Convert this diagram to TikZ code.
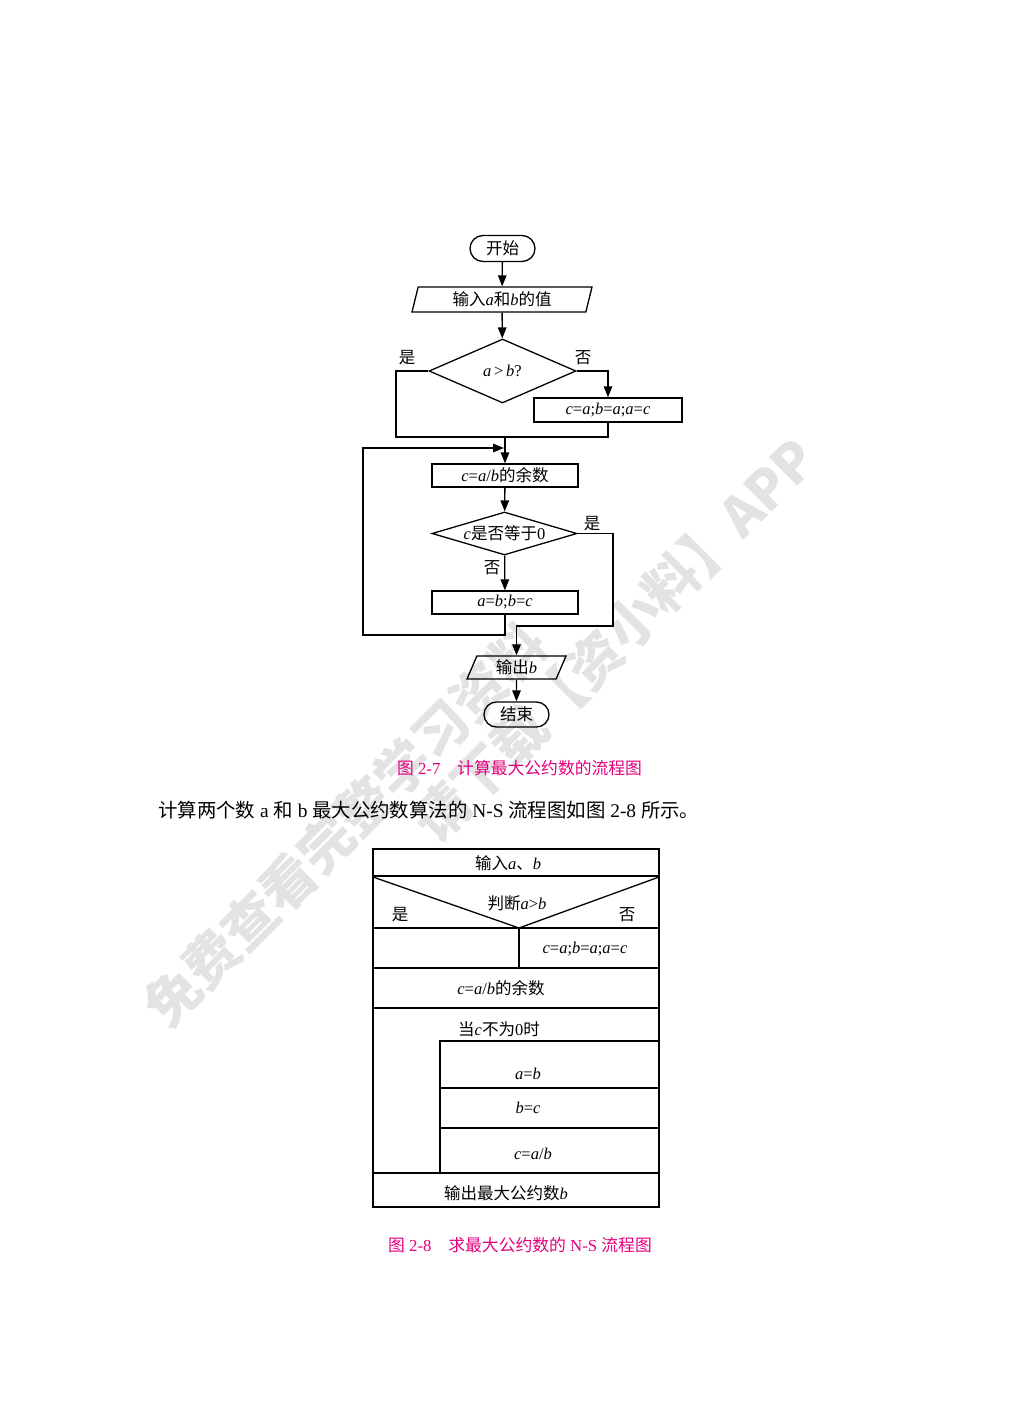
\documentclass[tikz,border=0pt]{standalone}
\usepackage{fontspec}
\setmainfont{Liberation Serif}
\newfontfamily\zh{Noto Sans CJK SC}
\usetikzlibrary{shapes.geometric,shapes.misc,arrows.meta}
\newcommand\vi[1]{\textit{#1}}
\definecolor{capmag}{RGB}{228,0,127}
\begin{document}
\begin{tikzpicture}[x=1pt,y=-1pt,
  base/.style={font=\fontsize{16.5pt}{18pt}\selectfont, inner sep=0pt},
  ln/.style={line width=1.3pt, line join=miter},
  arr/.style={ln, -{Triangle[length=11pt,width=8.5pt]}},
  term/.style={base, ln, draw, rounded rectangle, minimum width=65pt, minimum height=26pt},
  proc/.style={base, ln, draw, rectangle, minimum width=146pt, minimum height=23pt},
  dec/.style={base, ln, draw, diamond},
  io/.style={base, ln, draw, trapezium, trapezium stretches body=true},
  lab/.style={base},
  captext/.style={font=\fontsize{16.8pt}{18pt}\selectfont, text=capmag, inner sep=0pt},
  wm/.style={font=\fontsize{54pt}{56pt}\selectfont\zh\bfseries, text=black!11, inner sep=0pt, rotate=45}
]
\useasboundingbox (0,0) rectangle (1015,1413);
\fill[white] (0,0) rectangle (1015,1413);

% watermark
\node[wm] (wm1) at (345,825) {免费查看完整学习资料};
\node[wm] (wm2) at (615,640) {请下载【资小料】APP};

% ---------------- flowchart (Fig 2-7) ----------------
\node[term] (start) at (502.5,248.5) {\zh 开始};
\node[io, trapezium left angle=68, trapezium right angle=112,
      minimum width=180pt, minimum height=25pt] (in) at (502,299.5)
      {{\zh 输入}\vi{a}{\zh 和}\vi{b}{\zh 的值}};
\node[dec, aspect=2.3, minimum width=147pt, minimum height=64pt] (d1) at (502.5,371)
      {\vi{a}\,>\,\vi{b}?};
\node[proc, minimum width=148pt, minimum height=24pt] (p1) at (608,410)
      {\vi{c}=\vi{a};\vi{b}=\vi{a};\vi{a}=\vi{c}};
\coordinate (m1) at (505,437);
\coordinate (yl) at (396,437);
\node[proc] (p2) at (505,475.5) {\vi{c}=\vi{a}/\vi{b}{\zh 的余数}};
\node[dec, aspect=3.37, minimum width=145pt, minimum height=43pt] (d2) at (504.5,533.5)
      {\vi{c}{\zh 是否等于}0};
\node[proc] (p3) at (505,602.5) {\vi{a}=\vi{b};\vi{b}=\vi{c}};
\coordinate (lb) at (363,635);
\coordinate (lt) at (363,448);
\coordinate (m2) at (504,448);
\coordinate (rb) at (613,626);
\node[io, trapezium left angle=57, trapezium right angle=123,
      minimum width=99pt, minimum height=23pt] (out) at (516.5,667.5)
      {{\zh 输出}\vi{b}};
\node[term, minimum height=25pt] (end) at (516.5,714.5) {\zh 结束};

\draw[arr] (start) -- (in);
\draw[arr] (in) -- (d1);
\draw[ln] (d1.west) -| (yl) -- (m1);
\draw[arr] (d1.east) -| (p1.north);
\draw[ln] (p1.south) |- (m1);
\draw[arr] (m1) -- (p2.north);
\draw[arr] (p2) -- (d2);
\draw[arr] (d2) -- (p3);
\draw[arr] (p3.south) |- (lb) -- (lt) -- (m2);
\draw[arr] (d2.east) -| (rb) -| (out.north);
\draw[arr] (out) -- (end);

\node[lab] (ly1) at (407,358) {\zh 是};
\node[lab] (ln1) at (583,358) {\zh 否};
\node[lab] (ly2) at (592,524) {\zh 是};
\node[lab] (ln2) at (492,568) {\zh 否};

\node[captext] (cap1) at (519.5,768) {{\zh 图} 2-7{\zh 　计算最大公约数的流程图}};

% body text
\node[anchor=west, font=\fontsize{19.4pt}{21pt}\selectfont, inner sep=0pt] (body) at (158,810)
  {{\zh 计算两个数} a {\zh 和} b {\zh 最大公约数算法的} N-S {\zh 流程图如图} 2-8 {\zh 所示。}};

% ---------------- N-S chart (Fig 2-8) ----------------
\draw[ln] (373,849) rectangle (659,1207);
\draw[ln] (373,876) -- (659,876);
\draw[ln] (373,877) -- (519,928) -- (659,877);
\draw[ln] (373,928) -- (659,928);
\draw[ln] (519,928) -- (519,968);
\draw[ln] (373,968) -- (659,968);
\draw[ln] (373,1008) -- (659,1008);
\draw[ln] (659,1041) -- (440,1041) -- (440,1173);
\draw[ln] (440,1088) -- (659,1088);
\draw[ln] (440,1128) -- (659,1128);
\draw[ln] (373,1173) -- (659,1173);

\node[base] (n1) at (508,863) {{\zh 输入}\vi{a}{\zh 、}\vi{b}};
\node[base] (n2) at (517,903) {{\zh 判断}\vi{a}>\vi{b}};
\node[base] (n2y) at (400,915) {\zh 是};
\node[base] (n2n) at (627,915) {\zh 否};
\node[base] (n3) at (585,949) {\vi{c}=\vi{a};\vi{b}=\vi{a};\vi{a}=\vi{c}};
\node[base] (n4) at (501,988) {\vi{c}=\vi{a}/\vi{b}{\zh 的余数}};
\node[base] (n5) at (499,1029) {{\zh 当}\vi{c}{\zh 不为}0{\zh 时}};
\node[base] (n6) at (528,1074) {\vi{a}=\vi{b}};
\node[base] (n7) at (528,1108) {\vi{b}=\vi{c}};
\node[base] (n8) at (533,1154) {\vi{c}=\vi{a}/\vi{b}};
\node[base] (n9) at (506,1193) {{\zh 输出最大公约数}\vi{b}};

\node[captext] (cap2) at (520,1245) {{\zh 图} 2-8{\zh 　求最大公约数的} N-S {\zh 流程图}};
\end{tikzpicture}
\end{document}
